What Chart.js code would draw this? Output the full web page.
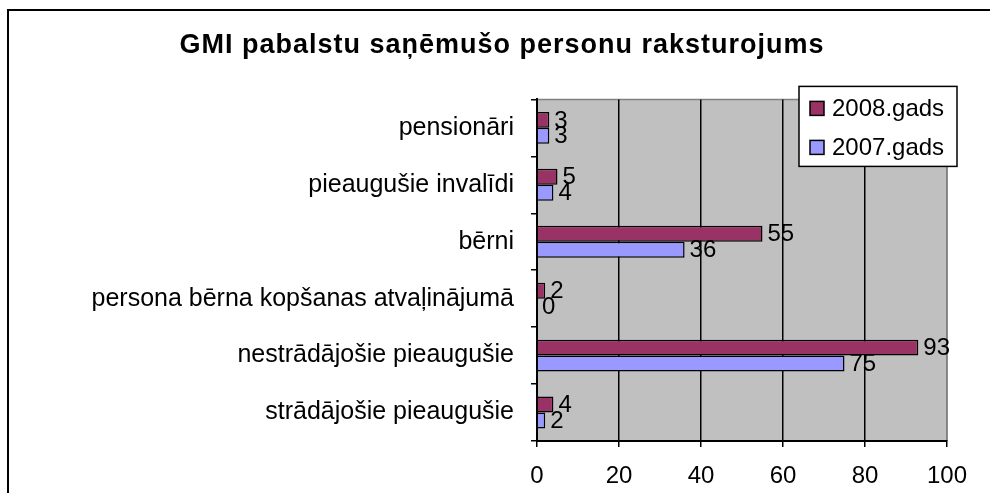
<!DOCTYPE html>
<html>
<head>
<meta charset="utf-8">
<script src="https://cdn.jsdelivr.net/npm/chart.js@4.4.1/dist/chart.umd.min.js"></script>
<style>
  body { margin: 0; background: #fff; }
  canvas { display: block; }
</style>
</head>
<body>
<canvas id="myChart" width="990" height="493"></canvas>
<script>
const categories = [
  'pensionāri',
  'pieaugušie invalīdi',
  'bērni',
  'persona bērna kopšanas atvaļinājumā',
  'nestrādājošie pieaugušie',
  'strādājošie pieaugušie',
];
const values2008 = [3, 5, 55, 2, 93, 4];
const values2007 = [3, 4, 36, 0, 75, 2];
const seriesNames = ['2008.gads', '2007.gads'];
const seriesColors = ['#993366', '#9999FF'];
const xTicks = [0, 20, 40, 60, 80, 100];

const FONT = "'Liberation Sans', Arial, sans-serif";
const ctx = document.getElementById('myChart');

// the title is drawn a bit spaced out; tick labels sit on z 1 so they come after the reset
const spacing = {
  id: 'spacing',
  beforeDraw(chart) { chart.ctx.letterSpacing = '1px'; },
  beforeDatasetsDraw(chart) { chart.ctx.letterSpacing = '0px'; },
};

// grey plot area behind the bars
const plotArea = {
  id: 'plotArea',
  beforeDraw(chart) {
    const { ctx, chartArea: a } = chart;
    ctx.save();
    ctx.fillStyle = '#C0C0C0';
    ctx.fillRect(a.left, a.top, a.right - a.left, a.bottom - a.top);
    ctx.strokeStyle = '#808080';
    ctx.lineWidth = 1.5;
    ctx.beginPath();
    ctx.moveTo(a.left, a.top);
    ctx.lineTo(a.right, a.top);
    ctx.lineTo(a.right, a.bottom);
    ctx.stroke();
    ctx.restore();
  },
};

// value labels at the end of every bar
const barLabels = {
  id: 'barLabels',
  afterDatasetsDraw(chart) {
    const c = chart.ctx;
    c.save();
    c.font = '24px ' + FONT;
    c.fillStyle = '#000';
    c.textAlign = 'left';
    c.textBaseline = 'middle';
    chart.data.datasets.forEach((ds, i) => {
      chart.getDatasetMeta(i).data.forEach((bar, j) => {
        c.fillText(String(ds.data[j]), bar.x + 5, bar.y + 1);
      });
    });
    c.restore();
  },
};

// boxed legend sitting over the top right of the plot, plus the outer frame
const boxLegend = {
  id: 'boxLegend',
  afterDraw(chart) {
    const c = chart.ctx;
    const a = chart.chartArea;
    const left = a.right - 148, top = a.top - 13, w = 158, h = 80;
    c.save();
    c.fillStyle = '#fff';
    c.fillRect(left, top, w, h);
    c.strokeStyle = '#000';
    c.lineWidth = 1.5;
    c.strokeRect(left, top, w, h);
    c.font = '24px ' + FONT;
    c.textBaseline = 'middle';
    chart.data.datasets.forEach((ds, i) => {
      const cy = top + 22 + i * 39;
      c.fillStyle = ds.backgroundColor;
      c.fillRect(left + 11, cy - 7, 14, 14);
      c.strokeRect(left + 11, cy - 7, 14, 14);
      c.fillStyle = '#000';
      c.fillText(ds.label, left + 33, cy + 1);
    });

    c.lineWidth = 2;
    c.beginPath();
    c.moveTo(8, chart.height);
    c.lineTo(8, 10);
    c.lineTo(chart.width, 10);
    c.stroke();
    c.restore();
  },
};

let myChart = new Chart(ctx, {
  type: 'bar',
  data: {
    labels: categories,
    datasets: [
      {
        label: seriesNames[0],
        data: values2008,
        backgroundColor: seriesColors[0],
        borderColor: '#000',
        borderWidth: 1.5,
      },
      {
        label: seriesNames[1],
        data: values2007,
        backgroundColor: seriesColors[1],
        borderColor: '#000',
        borderWidth: 1.5,
      },
    ],
  },
  options: {
    indexAxis: 'y',
    responsive: false,
    animation: false,
    categoryPercentage: 0.56,
    barPercentage: 1,
    layout: { padding: { left: 57, right: 43, top: 0, bottom: 0 } },
    plugins: {
      legend: { display: false },
      tooltip: { enabled: false },
      title: {
        display: true,
        text: 'GMI pabalstu saņēmušo personu raksturojums',
        color: '#000',
        font: { family: FONT, size: 27, weight: 'bold' },
        padding: { top: 29, bottom: 38 },
      },
    },
    scales: {
      x: {
        min: 0,
        max: 100,
        afterBuildTicks: (s) => { s.ticks = xTicks.map((v) => ({ value: v })); },
        afterFit: (s) => { s.height = 52; },
        grid: {
          color: (c) => (c.tick && c.tick.value === 100 ? '#808080' : '#000'),
          lineWidth: 1.5,
          drawTicks: true,
          tickLength: 6,
          tickColor: '#000',
        },
        border: { display: true, color: '#000', width: 2 },
        ticks: {
          z: 1,
          color: '#000',
          padding: 15,
          font: { family: FONT, size: 24 },
        },
      },
      y: {
        afterFit: (s) => { s.width = 480; },
        grid: {
          offset: true,
          drawOnChartArea: false,
          drawTicks: true,
          tickLength: 6,
          color: '#000',
          lineWidth: 1.5,
        },
        border: { display: true, color: '#000', width: 2 },
        ticks: {
          z: 1,
          color: '#000',
          padding: 17,
          font: { family: FONT, size: 25 },
        },
      },
    },
  },
  plugins: [spacing, plotArea, barLabels, boxLegend],
});
</script>
</body>
</html>
